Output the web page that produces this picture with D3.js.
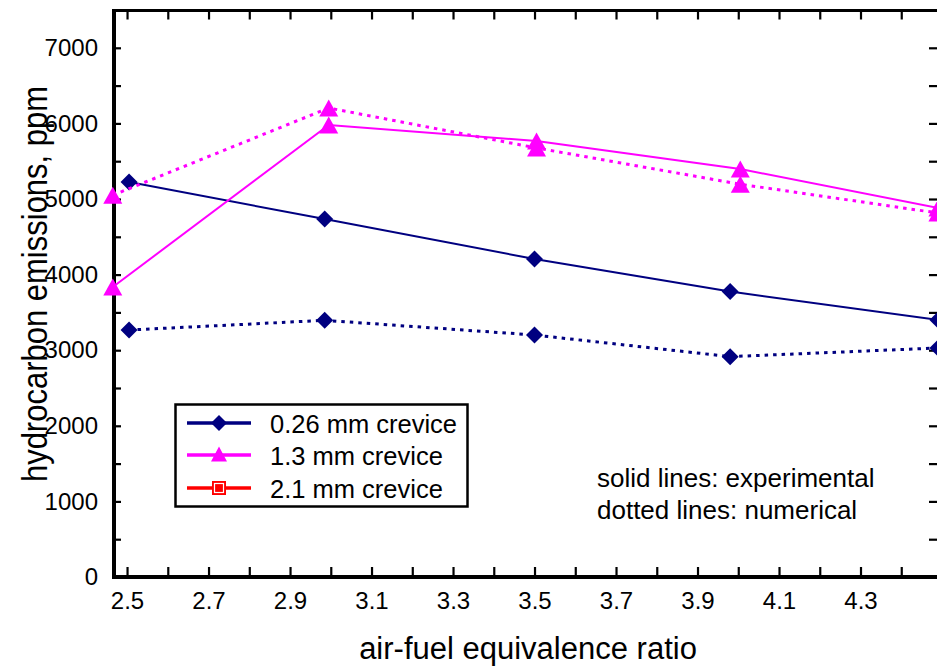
<!DOCTYPE html>
<html><head><meta charset="utf-8">
<script src="https://cdn.jsdelivr.net/npm/d3@7"></script>
<style>body{margin:0;background:#fff}svg{display:block}</style>
</head><body>
<svg id="c" width="937" height="666"></svg>
<script>
// ---- data ----
const phiDiamond = [2.505, 2.985, 3.5, 3.98, 4.49];
const phiTriangle = [2.465, 2.995, 3.505, 4.005, 4.49];
const exp026 = [5225, 4735, 4206, 3775, 3400];
const num026 = [3267, 3395, 3201, 2915, 3029];
const exp13 = [3836, 5979, 5767, 5397, 4881];
const num13 = [5050, 6204, 5675, 5195, 4815];
const xTickLabels = [2.5, 2.7, 2.9, 3.1, 3.3, 3.5, 3.7, 3.9, 4.1, 4.3];
const yTickLabels = [0, 1000, 2000, 3000, 4000, 5000, 6000, 7000];
const legendNames = ["0.26 mm crevice", "1.3 mm crevice", "2.1 mm crevice"];
const legendColors = ["#000080", "#ff00ff", "#ff0000"];
const notes = ["solid lines: experimental", "dotted lines: numerical"];

const FONT = "'Liberation Sans', Arial, Helvetica, sans-serif";
const svg = d3.select("#c");
const x = d3.scaleLinear().domain([2.468, 4.5]).range([114, 942]);
const y = d3.scaleLinear().domain([0, 7500]).range([577, 10]);

const xMinor = d3.range(25, 45).map(d => d / 10);
const yMinor = d3.range(0, 7001, 500);
const isLabel = v => xTickLabels.some(t => Math.abs(t - v) < 1e-6);

function styleAxis(g) {
  g.select(".domain").remove();
  g.selectAll(".tick line").attr("stroke", "#000").attr("stroke-width", 2.2);
  g.selectAll("text").attr("font-family", FONT).attr("font-size", 24).attr("fill", "#000");
}

// bottom
svg.append("g").attr("transform", "translate(0,577)")
  .call(d3.axisBottom(x).tickValues(xMinor).tickSizeInner(-10).tickSizeOuter(0).tickPadding(15)
    .tickFormat(v => isLabel(v) ? d3.format(".1f")(v) : ""))
  .call(styleAxis);
// top
svg.append("g").attr("transform", "translate(0,10.5)")
  .call(d3.axisTop(x).tickValues(xMinor).tickSizeInner(-9).tickSizeOuter(0).tickFormat(""))
  .call(styleAxis);
// left
svg.append("g").attr("transform", "translate(114,0)")
  .call(d3.axisLeft(y).tickValues(yMinor).tickSizeInner(-7).tickSizeOuter(0).tickPadding(16)
    .tickFormat(v => yTickLabels.includes(v) ? String(v) : ""))
  .call(styleAxis);
// right
svg.append("g").attr("transform", "translate(941,0)")
  .call(d3.axisRight(y).tickValues(yMinor).tickSizeInner(-12).tickSizeOuter(0).tickFormat(""))
  .call(styleAxis);

// frame
svg.append("line").attr("x1", 114).attr("x2", 114).attr("y1", 9).attr("y2", 579)
  .attr("stroke", "#000").attr("stroke-width", 4);
svg.append("line").attr("x1", 112).attr("x2", 945).attr("y1", 577).attr("y2", 577)
  .attr("stroke", "#000").attr("stroke-width", 4);
svg.append("line").attr("x1", 112).attr("x2", 945).attr("y1", 10.5).attr("y2", 10.5)
  .attr("stroke", "#000").attr("stroke-width", 3);
svg.append("line").attr("x1", 941).attr("x2", 941).attr("y1", 9).attr("y2", 579)
  .attr("stroke", "#000").attr("stroke-width", 4);

// markers
const diamond = (s) => `M0,${-s}L${s},0L0,${s}L${-s},0Z`;
const triangle = (w, h) => `M0,${-h/2}L${w/2},${h/2}L${-w/2},${h/2}Z`;

function series(xs, ys, color, dashed, marker) {
  const pts = xs.map((v, i) => [x(v), y(ys[i])]);
  svg.append("path").attr("d", d3.line()(pts)).attr("fill", "none")
    .attr("stroke", color)
    .attr("stroke-width", dashed ? 3 : 2)
    .attr("stroke-dasharray", dashed ? "3.5,5" : null);
  svg.append("g").selectAll("path").data(pts).join("path")
    .attr("transform", d => `translate(${d[0]},${d[1]})`)
    .attr("d", marker).attr("fill", color);
}
series(phiDiamond, num026, legendColors[0], true, diamond(8.5));
series(phiDiamond, exp026, legendColors[0], false, diamond(8.5));
series(phiTriangle, num13, legendColors[1], true, triangle(19, 17));
series(phiTriangle, exp13, legendColors[1], false, triangle(19, 17));

// legend
const lg = svg.append("g");
lg.append("rect").attr("x", 175.5).attr("y", 404.5).attr("width", 292).attr("height", 102)
  .attr("fill", "#fff").attr("stroke", "#000").attr("stroke-width", 2.5);
const rowsY = [423, 455, 488];
legendNames.forEach((name, i) => {
  const yy = rowsY[i];
  lg.append("line").attr("x1", 187).attr("x2", 251).attr("y1", yy).attr("y2", yy)
    .attr("stroke", legendColors[i]).attr("stroke-width", 3.5);
  if (i === 0) lg.append("path").attr("transform", `translate(219,${yy})`).attr("d", diamond(8)).attr("fill", legendColors[i]);
  if (i === 1) lg.append("path").attr("transform", `translate(219,${yy-1})`).attr("d", triangle(16, 15)).attr("fill", legendColors[i]);
  if (i === 2) {
    lg.append("rect").attr("x", 212).attr("y", yy - 7).attr("width", 14).attr("height", 14).attr("fill", legendColors[i]);
    lg.append("rect").attr("x", 214.5).attr("y", yy - 4.5).attr("width", 9).attr("height", 9)
      .attr("fill", legendColors[i]).attr("stroke", "#fff").attr("stroke-width", 1.2);
  }
  lg.append("text").attr("x", 270).attr("y", yy + 10).text(name)
    .attr("font-family", FONT).attr("font-size", 25.5).attr("fill", "#000");
});

// notes
notes.forEach((t, i) => {
  svg.append("text").attr("x", 597).attr("y", 487 + i * 32).text(t)
    .attr("font-family", FONT).attr("font-size", 26).attr("fill", "#000");
});

// axis titles
svg.append("text").attr("x", 528).attr("y", 659).attr("text-anchor", "middle")
  .text("air-fuel equivalence ratio").attr("font-family", FONT).attr("font-size", 31).attr("fill", "#000");
svg.append("text").attr("transform", "translate(47,284) rotate(-90) scale(1,1.12)").attr("text-anchor", "middle")
  .text("hydrocarbon emissions, ppm").attr("font-family", FONT).attr("font-size", 31).attr("fill", "#000");
</script>
</body></html>
